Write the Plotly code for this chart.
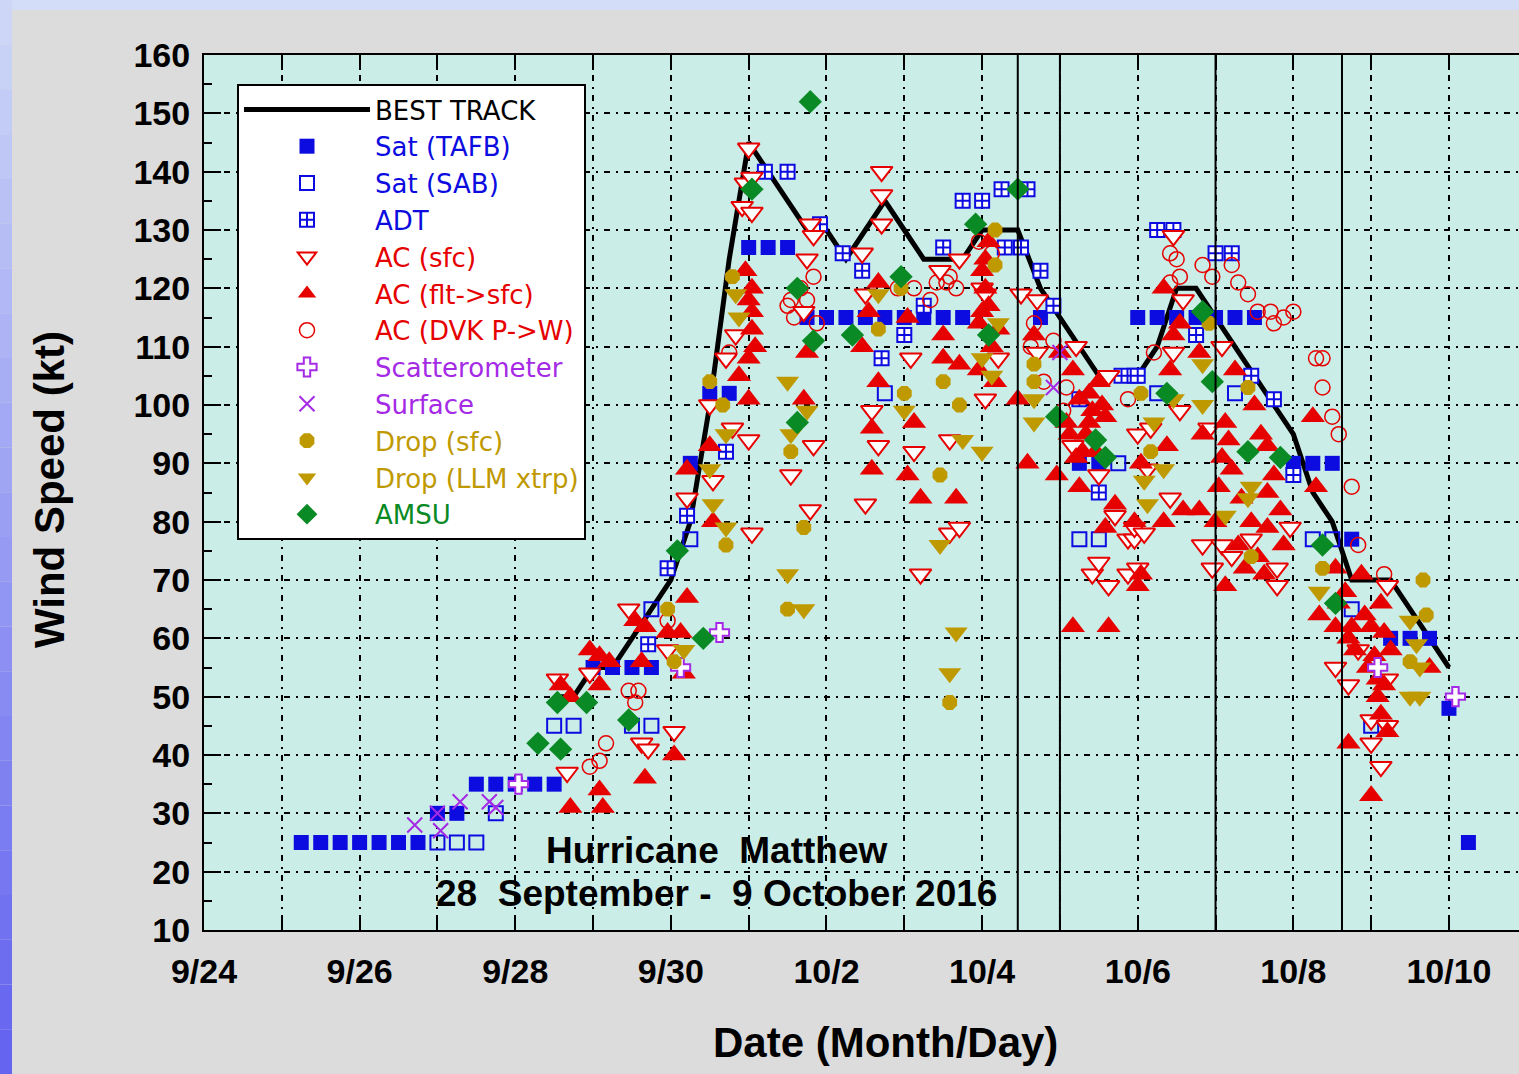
import pandas as pd
import plotly.graph_objects as go

# ---------------- data (UTC times, 2016; wind in kt) ----------------
best_time = ["09-28 12", "09-28 18", "09-29 00", "09-29 06", "09-29 12", "09-29 18",
             "09-30 00", "09-30 06", "09-30 12", "09-30 18",
             "10-01 00", "10-01 06", "10-01 12", "10-01 18",
             "10-02 00", "10-02 06", "10-02 12", "10-02 18",
             "10-03 00", "10-03 06", "10-03 12", "10-03 18",
             "10-04 00", "10-04 06", "10-04 11", "10-04 18",
             "10-05 00", "10-05 06", "10-05 12", "10-05 18",
             "10-06 00", "10-06 06", "10-06 12", "10-06 18",
             "10-07 00", "10-07 06", "10-07 12", "10-07 18",
             "10-08 00", "10-08 06", "10-08 12", "10-08 15", "10-08 18",
             "10-09 00", "10-09 06", "10-09 12", "10-09 18", "10-10 00"]
best_kt = [50, 50, 55, 55, 60, 65,
           70, 80, 100, 125,
           145, 140, 135, 130,
           130, 125, 130, 135,
           130, 125, 125, 125,
           130, 130, 130, 120,
           115, 110, 105, 105,
           105, 110, 120, 120,
           115, 110, 105, 100,
           95, 85, 80, 75, 70,
           70, 70, 65, 60, 55]

tafb_time = ["09-25 06", "09-25 12", "09-25 18", "09-26 00", "09-26 06", "09-26 12", "09-26 18",
             "09-27 00", "09-27 06", "09-27 12", "09-27 18", "09-28 00", "09-28 06", "09-28 12",
             "09-29 00", "09-29 06", "09-29 12", "09-29 18",
             "09-30 06", "09-30 12", "09-30 18",
             "10-01 00", "10-01 06", "10-01 12", "10-01 18",
             "10-02 00", "10-02 06", "10-02 12", "10-02 18", "10-03 00", "10-03 06", "10-03 12", "10-03 18",
             "10-04 18", "10-05 06", "10-05 12",
             "10-06 00", "10-06 06", "10-06 12", "10-06 18", "10-07 00", "10-07 06", "10-07 12",
             "10-08 00", "10-08 06", "10-08 12", "10-08 18",
             "10-09 06", "10-09 12", "10-09 18", "10-10 00", "10-10 06"]
tafb_kt = [25, 25, 25, 25, 25, 25, 25,
           30, 30, 35, 35, 35, 35, 35,
           55, 55, 55, 55,
           90, 102, 102,
           127, 127, 127, 115,
           115, 115, 115, 115, 115, 115, 115, 115,
           115, 90, 90,
           115, 115, 115, 115, 115, 115, 115,
           90, 90, 90, 77,
           60, 60, 60, 48, 25]

sab_time = ["09-27 00", "09-27 06", "09-27 12", "09-27 18",
            "09-28 12", "09-28 18", "09-29 12", "09-29 18", "09-29 18",
            "09-30 06", "10-02 18", "10-05 06", "10-05 12", "10-05 18",
            "10-06 06", "10-07 06", "10-08 06", "10-08 12", "10-08 18", "10-09 00"]
sab_kt = [25, 25, 25, 30,
          45, 45, 45, 45, 65,
          77, 102, 77, 77, 90,
          102, 102, 77, 77, 65, 45]

adt_time = ["09-29 17", "09-29 23", "09-30 05", "09-30 17",
            "10-01 05", "10-01 12", "10-01 22", "10-02 05", "10-02 11", "10-02 17",
            "10-03 00", "10-03 06", "10-03 12", "10-03 18", "10-04 00",
            "10-04 06", "10-04 14", "10-04 07", "10-04 12", "10-04 18", "10-04 22",
            "10-05 06", "10-05 12", "10-05 19", "10-05 23",
            "10-06 00", "10-06 06", "10-06 11", "10-06 18",
            "10-07 00", "10-07 05", "10-07 11", "10-07 18", "10-08 00"]
adt_kt = [59, 72, 81, 92,
          140, 140, 131, 126, 123, 108,
          112, 117, 127, 135, 135,
          137, 137, 127, 127, 123, 117,
          101, 85, 105, 105,
          105, 130, 130, 112,
          126, 126, 105, 101, 88]

ac_sfc_time = [
    "09-28 13", "09-28 16", "09-28 23",
    "09-29 11", "09-29 15", "09-29 17", "09-29 23",
    "09-30 01", "09-30 05", "09-30 12", "09-30 13", "09-30 17", "09-30 19", "09-30 20", "09-30 22", "09-30 23",
    "10-01 00", "10-01 00", "10-01 01", "10-01 01", "10-01 01", "10-01 13", "10-01 17", "10-01 18", "10-01 19", "10-01 19", "10-01 20", "10-01 20",
    "10-02 11", "10-02 12", "10-02 12", "10-02 14", "10-02 16", "10-02 17", "10-02 17", "10-02 17",
    "10-03 02", "10-03 03", "10-03 05", "10-03 11", "10-03 14", "10-03 14", "10-03 17", "10-03 17",
    "10-04 00", "10-04 01", "10-04 01", "10-04 05", "10-04 12", "10-04 17", "10-04 17",
    "10-05 04", "10-05 05", "10-05 10", "10-05 12", "10-05 12", "10-05 15", "10-05 15", "10-05 17", "10-05 21", "10-05 21", "10-05 23", "10-05 23",
    "10-06 00", "10-06 00", "10-06 02", "10-06 03", "10-06 04", "10-06 10", "10-06 11", "10-06 11", "10-06 13", "10-06 14", "10-06 20", "10-06 22", "10-06 23",
    "10-07 02", "10-07 02", "10-07 05", "10-07 11", "10-07 19", "10-07 19", "10-07 23",
    "10-08 13", "10-08 17", "10-08 20",
    "10-09 00", "10-09 00", "10-09 03", "10-09 05", "10-09 05", "10-09 05"]
ac_sfc_kt = [
    53, 37, 54,
    65, 42, 41, 58,
    44, 84, 100, 87, 108, 96, 112, 134, 138,
    144, 94, 139, 133, 78, 88, 116, 125, 131, 82, 129, 93,
    126, 119, 83, 99, 93, 140, 136, 131,
    108, 92, 71, 123, 94, 78, 125, 79,
    120, 119, 101, 108, 119, 118, 109,
    93, 110, 71, 73, 88, 105, 69, 81, 77, 71, 77, 79,
    95, 72, 78, 89, 96, 84, 129, 109, 99, 118, 76, 96, 72,
    110, 76, 74, 77, 72, 69, 79,
    55, 52, 58,
    46, 42, 38, 53, 45, 69]

ac_flt_time = [
    "09-28 14", "09-28 17", "09-28 17", "09-28 23",
    "09-29 02", "09-29 02", "09-29 02", "09-29 03", "09-29 05", "09-29 13", "09-29 15", "09-29 16", "09-29 16", "09-29 23",
    "09-30 01", "09-30 03", "09-30 04", "09-30 05", "09-30 05", "09-30 12", "09-30 13", "09-30 21",
    "10-01 00", "10-01 00", "10-01 01", "10-01 01", "10-01 01", "10-01 17", "10-01 18",
    "10-02 11", "10-02 13", "10-02 14", "10-02 14", "10-02 16", "10-02 16",
    "10-03 01", "10-03 01", "10-03 03", "10-03 05", "10-03 12", "10-03 12", "10-03 16", "10-03 17", "10-03 23",
    "10-04 00", "10-04 01", "10-04 02", "10-04 02", "10-04 05", "10-04 11", "10-04 14", "10-04 16", "10-04 23",
    "10-05 00", "10-05 03", "10-05 04", "10-05 04", "10-05 06", "10-05 06", "10-05 07", "10-05 09", "10-05 09", "10-05 12", "10-05 13", "10-05 14", "10-05 15", "10-05 17", "10-05 23",
    "10-06 00", "10-06 01", "10-06 01", "10-06 08", "10-06 08", "10-06 09", "10-06 10", "10-06 11", "10-06 13", "10-06 14", "10-06 19", "10-06 19", "10-06 20",
    "10-07 01", "10-07 03", "10-07 03", "10-07 04", "10-07 06", "10-07 07", "10-07 11", "10-07 12", "10-07 14", "10-07 16", "10-07 16", "10-07 16", "10-07 18", "10-07 21",
    "10-08 06", "10-08 07", "10-08 08", "10-08 13", "10-08 13", "10-08 17", "10-08 17", "10-08 18", "10-08 21", "10-08 23",
    "10-09 00", "10-09 00", "10-09 02", "10-09 03", "10-09 04", "10-09 05", "10-09 06", "10-09 18",
    "09-30 23", "10-01 02", "10-01 00", "10-03 23", "10-04 00", "10-04 01", "10-04 03", "10-04 04",
    "10-05 02", "10-05 05", "10-05 08", "10-05 10", "10-05 11", "10-05 14",
    "10-07 00", "10-07 02", "10-07 05", "10-07 08", "10-07 09", "10-07 13", "10-07 15", "10-07 20",
    "10-08 14", "10-08 16", "10-08 19", "10-08 22", "10-09 01", "10-09 02", "10-09 03", "10-09 04"]
ac_flt_kt = [
    52, 50, 31, 58,
    57, 52, 34, 31, 56, 63, 56, 62, 36, 61,
    40, 61, 54, 67, 89, 93, 80, 105,
    101, 118, 120, 116, 113, 101, 109,
    110, 116, 89, 96, 121, 104,
    115, 88, 97, 84, 112, 108, 84, 107, 114,
    116, 120, 128, 117, 113, 101, 90, 112, 88,
    109, 95, 106, 62, 101, 86, 92, 97, 102, 104, 100, 79, 62, 83, 80,
    69, 71, 90, 120, 80, 93, 106, 112, 114, 82, 109, 82, 95,
    86, 97, 69, 94, 106, 76, 80, 100, 95, 93, 79, 85, 88, 76,
    98, 86, 64, 72, 62, 42, 60, 62, 71, 55,
    62, 33, 50, 66, 61, 44, 58, 55,
    123, 110, 108, 106, 123, 125, 110, 104,
    97, 91, 95, 99, 92, 98,
    80, 91, 89, 84, 72, 74, 71, 82,
    66, 68, 58, 64, 57, 53, 47, 52]

dvk_time = [
    "09-28 23",
    "09-29 02", "09-29 04", "09-29 11", "09-29 13", "09-29 14", "09-29 23",
    "09-30 18",
    "10-01 12", "10-01 13", "10-01 18", "10-01 20",
    "10-02 22",
    "10-03 03", "10-03 13", "10-03 14", "10-03 16", "10-03 23",
    "10-04 03", "10-04 16", "10-04 22",
    "10-05 02", "10-05 21",
    "10-06 05", "10-06 10", "10-06 10", "10-06 12", "10-06 13", "10-06 20", "10-06 23",
    "10-07 05", "10-07 07", "10-07 10", "10-07 13", "10-07 17", "10-07 18", "10-07 21",
    "10-08 00", "10-08 07", "10-08 09", "10-08 09", "10-08 12", "10-08 14", "10-08 18", "10-08 20",
    "10-09 04",
    "10-01 14", "10-01 16", "10-01 21", "10-03 08", "10-03 10", "10-04 15", "10-04 19", "10-05 01"]
dvk_kt = [
    38,
    39, 42, 51, 49, 51, 63,
    109,
    117, 118, 118, 122,
    120,
    120, 121, 122, 120, 128,
    126, 114, 111,
    103, 101,
    109, 126, 121, 125, 122, 124, 122,
    124, 121, 119, 116, 116, 114, 115,
    116, 108, 108, 103, 98, 95, 86, 76,
    71,
    115, 120, 114, 118, 121, 110, 104, 99]

scat_time = ["09-28 01", "09-30 03", "09-30 15", "10-09 02", "10-10 02"]
scat_kt = [35, 55, 61, 55, 50]

surface_time = ["09-26 17", "09-27 00", "09-27 01", "09-27 07", "09-27 16", "09-27 18", "10-04 22", "10-05 00"]
surface_kt = [28, 30, 27, 32, 32, 31, 103, 109]

drop_sfc_time = [
    "09-29 23",
    "09-30 01", "09-30 12", "09-30 16", "09-30 17", "09-30 19",
    "10-01 12", "10-01 13", "10-01 17",
    "10-02 16", "10-02 23",
    "10-03 00", "10-03 11", "10-03 12", "10-03 14", "10-03 17",
    "10-04 04", "10-04 04", "10-04 16", "10-04 16",
    "10-06 01", "10-06 04", "10-06 22",
    "10-07 10", "10-07 11",
    "10-08 09",
    "10-09 12", "10-09 16", "10-09 17"]
drop_sfc_kt = [
    65,
    56, 104, 100, 76, 122,
    65, 92, 79,
    113, 120,
    102, 88, 104, 49, 100,
    130, 124, 107, 104,
    102, 92, 114,
    103, 74,
    72,
    56, 70, 64]

drop_llm_time = [
    "09-30 04", "09-30 12", "09-30 13", "09-30 17", "09-30 17", "09-30 20", "09-30 21",
    "10-01 12", "10-01 12", "10-01 13", "10-01 17", "10-01 18",
    "10-02 16",
    "10-03 00", "10-03 11", "10-03 14", "10-03 16", "10-03 18",
    "10-04 00", "10-04 00", "10-04 03", "10-04 05", "10-04 16", "10-04 16",
    "10-06 02", "10-06 03", "10-06 05", "10-06 08", "10-06 11", "10-06 20", "10-06 20",
    "10-07 03", "10-07 10", "10-07 11",
    "10-08 08",
    "10-09 12", "10-09 12", "10-09 14", "10-09 15", "10-09 15"]
drop_llm_kt = [
    58, 89, 83, 95, 79, 119, 115,
    104, 71, 95, 65, 99,
    119,
    99, 76, 54, 61, 94,
    108, 92, 105, 114, 101, 97,
    87, 83, 97, 89, 101, 107, 100,
    81, 84, 86,
    68,
    63, 50, 59, 55, 50]

amsu_time = [
    "09-28 07", "09-28 13", "09-28 14", "09-28 22",
    "09-29 11",
    "09-30 02", "09-30 10",
    "10-01 01", "10-01 15", "10-01 15", "10-01 19", "10-01 20",
    "10-02 08", "10-02 23",
    "10-03 22",
    "10-04 02", "10-04 11", "10-04 23",
    "10-05 11", "10-05 14",
    "10-06 09", "10-06 20", "10-06 23",
    "10-07 10", "10-07 20",
    "10-08 09", "10-08 13"]
amsu_kt = [
    42, 49, 41, 49,
    46,
    75, 60,
    137, 120, 97, 152, 111,
    112, 122,
    131,
    112, 137, 98,
    94, 91,
    102, 116, 104,
    92, 91,
    76, 66]

landfall_time = ["10-04 11", "10-05 00", "10-07 00", "10-08 15"]

day_ticks = ["09-24 00", "09-25 00", "09-26 00", "09-27 00", "09-28 00", "09-29 00", "09-30 00",
             "10-01 00", "10-02 00", "10-03 00", "10-04 00", "10-05 00", "10-06 00", "10-07 00",
             "10-08 00", "10-09 00", "10-10 00"]
day_labels = ["9/24", "", "9/26", "", "9/28", "", "9/30", "", "10/2", "", "10/4", "", "10/6", "",
              "10/8", "", "10/10"]
speed_ticks = [10, 20, 30, 40, 50, 60, 70, 80, 90, 100, 110, 120, 130, 140, 150, 160]


def when(lst):
    return pd.to_datetime(["2016-" + s for s in lst], format="%Y-%m-%d %H")


for a, b in [(best_time, best_kt), (tafb_time, tafb_kt), (sab_time, sab_kt), (adt_time, adt_kt),
             (ac_sfc_time, ac_sfc_kt), (ac_flt_time, ac_flt_kt), (dvk_time, dvk_kt),
             (scat_time, scat_kt), (surface_time, surface_kt), (drop_sfc_time, drop_sfc_kt),
             (drop_llm_time, drop_llm_kt), (amsu_time, amsu_kt)]:
    assert len(a) == len(b), (len(a), len(b), a[0])

# ---------------- styles ----------------
BLUE = "#0c0ce0"
RED = "#e60000"
PURPLE = "#a52ae6"
GOLD = "#bf9900"
GREEN = "#0a8a24"
FONT = "Liberation Sans, Arial, sans-serif"


def lab(txt, col):
    return "<span style='color:%s'>%s</span>" % (col, txt)


fig = go.Figure()
fig.add_trace(go.Scatter(x=when(best_time), y=best_kt, mode="lines",
                         line=dict(color="black", width=5), name=lab("BEST TRACK", "black"),
                         legendrank=1))
fig.add_trace(go.Scatter(x=when(sab_time), y=sab_kt, mode="markers", name=lab("Sat (SAB)", BLUE),
                         marker=dict(symbol="square-open", size=14, color=BLUE, line=dict(width=2, color=BLUE)),
                         legendrank=3))
fig.add_trace(go.Scatter(x=when(tafb_time), y=tafb_kt, mode="markers", name=lab("Sat (TAFB)", BLUE),
                         marker=dict(symbol="square", size=15, color=BLUE, line=dict(width=0)),
                         legendrank=2))
fig.add_trace(go.Scatter(x=when(adt_time), y=adt_kt, mode="markers", name=lab("ADT", BLUE),
                         marker=dict(symbol="square-cross", size=14, color="white", line=dict(width=2, color=BLUE)),
                         legendrank=4))
fig.add_trace(go.Scatter(x=when(dvk_time), y=dvk_kt, mode="markers", name=lab("AC (DVK P-&gt;W)", RED),
                         marker=dict(symbol="circle-open", size=15, color=RED, line=dict(width=1.5, color=RED)),
                         legendrank=7))
fig.add_trace(go.Scatter(x=when(ac_sfc_time), y=ac_sfc_kt, mode="markers", name=lab("AC (sfc)", RED),
                         marker=dict(symbol="triangle-down", size=19, color="white", line=dict(width=2, color=RED)),
                         legendrank=5))
fig.add_trace(go.Scatter(x=when(ac_flt_time), y=ac_flt_kt, mode="markers", name=lab("AC (flt-&gt;sfc)", RED),
                         marker=dict(symbol="triangle-up", size=21, color=RED, line=dict(width=0)),
                         legendrank=6))
fig.add_trace(go.Scatter(x=when(scat_time), y=scat_kt, mode="markers", name=lab("Scatterometer", PURPLE),
                         marker=dict(symbol="cross", size=16, color="white", line=dict(width=2, color=PURPLE)),
                         legendrank=8))
fig.add_trace(go.Scatter(x=when(surface_time), y=surface_kt, mode="markers", name=lab("Surface", PURPLE),
                         marker=dict(symbol="x-thin-open", size=15, color=PURPLE, line=dict(width=2, color=PURPLE)),
                         legendrank=9))
fig.add_trace(go.Scatter(x=when(drop_sfc_time), y=drop_sfc_kt, mode="markers", name=lab("Drop (sfc)", GOLD),
                         marker=dict(symbol="octagon", size=16, color=GOLD, line=dict(width=0)),
                         legendrank=10))
fig.add_trace(go.Scatter(x=when(drop_llm_time), y=drop_llm_kt, mode="markers", name=lab("Drop (LLM xtrp)", GOLD),
                         marker=dict(symbol="triangle-down", size=20, color=GOLD, line=dict(width=0)),
                         legendrank=11))
fig.add_trace(go.Scatter(x=when(amsu_time), y=amsu_kt, mode="markers", name=lab("AMSU", GREEN),
                         marker=dict(symbol="diamond", size=18, color=GREEN, line=dict(width=0)),
                         legendrank=12))

# ---------------- layout ----------------
W, H = 1519, 1074
L, T, B = 204, 55, 144
PW, PH = W - L, H - T - B


def px(xp):
    return (xp - L) / PW


def py(yp):
    return (H - B - yp) / PH


shapes = []
# landfall markers
for t in when(landfall_time):
    shapes.append(dict(type="line", xref="x", yref="paper", x0=str(t), x1=str(t), y0=0, y1=1,
                       line=dict(color="black", width=2), layer="above"))
# page decoration: light-blue top strip and blue gradient left strip
shapes.append(dict(type="rect", xref="paper", yref="paper", x0=px(0), x1=px(W), y0=py(10), y1=py(0),
                   fillcolor="#d3ddf7", line=dict(width=0), layer="below"))
n = 24
for i in range(n):
    f = i / (n - 1)
    r = int(205 + (100 - 205) * f)
    g = int(214 + (100 - 214) * f)
    b = int(247 + (240 - 247) * f)
    shapes.append(dict(type="rect", xref="paper", yref="paper", x0=px(0), x1=px(12),
                       y0=py(H * (i + 1) / n), y1=py(H * i / n),
                       fillcolor="rgb(%d,%d,%d)" % (r, g, b), line=dict(width=0), layer="below"))

annotations = [
    dict(text="<b>Hurricane  Matthew</b>", x=px(717), y=py(850), xref="paper", yref="paper",
         showarrow=False, font=dict(size=37, family=FONT, color="black"), xanchor="center", yanchor="middle"),
    dict(text="<b>28  September -  9 October 2016</b>", x=px(716), y=py(893), xref="paper", yref="paper",
         showarrow=False, font=dict(size=37, family=FONT, color="black"), xanchor="center", yanchor="middle"),
    dict(text="<b>Wind Speed (kt)</b>", x=px(50), y=py(490), xref="paper", yref="paper", textangle=-90,
         showarrow=False, font=dict(size=42, family=FONT, color="black"), xanchor="center", yanchor="middle"),
    dict(text="<b>Date (Month/Day)</b>", x=px(885), y=py(1042), xref="paper", yref="paper",
         showarrow=False, font=dict(size=42, family=FONT, color="black"), xanchor="center", yanchor="middle"),
]

fig.update_layout(
    width=W, height=H,
    margin=dict(l=L, r=0, t=T, b=B, pad=0),
    paper_bgcolor="#dcdcdc",
    plot_bgcolor="#cbede8",
    font=dict(family=FONT, color="black"),
    showlegend=True,
    legend=dict(x=px(237), y=py(84), xanchor="left", yanchor="top", bgcolor="white",
                bordercolor="black", borderwidth=2, font=dict(size=26, family="DejaVu Sans, " + FONT),
                itemwidth=126, traceorder="normal"),
    shapes=shapes,
    annotations=annotations,
    xaxis=dict(type="date", range=["2016-09-24 00:00", "2016-10-10 21:36"],
               tickvals=when(day_ticks), ticktext=day_labels,
               ticks="inside", ticklen=15, tickwidth=2, tickcolor="black",
               showline=True, linecolor="black", linewidth=2, mirror="ticks",
               showgrid=True, gridcolor="black", gridwidth=2, griddash="6px,6px,2px,6px",
               zeroline=False, ticklabelstandoff=10,
               tickfont=dict(size=34, family=FONT, weight="bold", color="black")),
    yaxis=dict(range=[10, 160], tickvals=speed_ticks,
               ticks="inside", ticklen=17, tickwidth=2, tickcolor="black",
               minor=dict(dtick=5, ticks="inside", ticklen=8, tickwidth=2, tickcolor="black", showgrid=False),
               showline=True, linecolor="black", linewidth=2, mirror=False,
               showgrid=True, gridcolor="black", gridwidth=2, griddash="6px,6px,2px,6px",
               zeroline=False, ticklabelstandoff=5,
               tickfont=dict(size=34, family=FONT, weight="bold", color="black")),
)

fig.write_html("out.html", config={"displayModeBar": False},
               post_script="document.body.style.margin='0px';")
